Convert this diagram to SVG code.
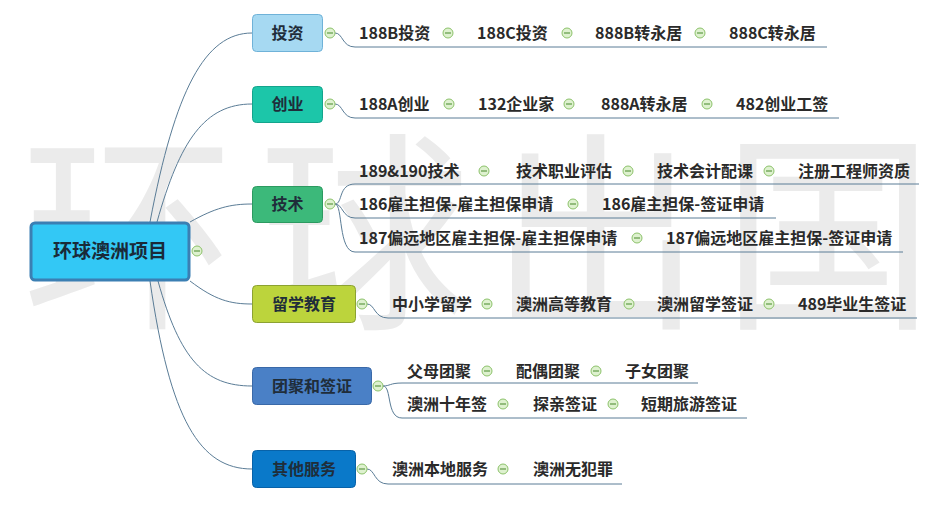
<svg xmlns="http://www.w3.org/2000/svg" width="941" height="516" viewBox="0 0 941 516">
<defs>
<style>
.wm{font-family:"Noto Sans CJK SC",sans-serif;font-size:212px;fill:#ebebeb;}
.lf{font-family:"Noto Sans CJK SC","Liberation Sans",sans-serif;font-size:16px;font-weight:bold;fill:#2a2a2a;}
.br{font-family:"Noto Sans CJK SC","Liberation Sans",sans-serif;font-size:16px;font-weight:bold;fill:#1f2d3a;text-anchor:middle;}
.rt{font-family:"Noto Sans CJK SC","Liberation Sans",sans-serif;font-size:19px;font-weight:bold;fill:#1a2a38;text-anchor:middle;}
.cn{fill:none;stroke:#5a7c96;stroke-width:1;}
.icc{fill:#def1cf;stroke:#8cc26a;stroke-width:1;}
.icl{stroke:#5f9a45;stroke-width:1.2;}
</style>
<g id="m"><circle class="icc" cx="0" cy="0" r="5"/><line class="icl" x1="-3" y1="0" x2="3" y2="0"/></g>
</defs>
<rect width="941" height="516" fill="#ffffff"/>
<text class="wm" x="22 258 490 722" y="313">环球出国</text>

<g id="connectors">
<path class="cn" d="M150,222 C175,90 205,33 252,33"/>
<path class="cn" d="M157,222 C180,140 205,104 252,104"/>
<path class="cn" d="M190,222 C215,208 230,204 252,204"/>
<path class="cn" d="M190,281 C215,300 230,304 252,304"/>
<path class="cn" d="M158,281 C180,360 205,386 252,386"/>
<path class="cn" d="M150,281 C170,420 200,469 252,469"/>
<path class="cn" d="M335,33 C343,33 342,47 355,47 H827"/>
<path class="cn" d="M335,104 C343,104 342,118 355,118 H839"/>
<path class="cn" d="M335,204 C343,204 338,184 355,184 H919"/>
<path class="cn" d="M335,204 C343,204 342,218 355,218 H776"/>
<path class="cn" d="M335,204 C343,204 338,252 355,252 H903"/>
<path class="cn" d="M367,304 C375,304 374,318 388,318 H917"/>
<path class="cn" d="M383,386 C390,386 390,383 402,383 H698"/>
<path class="cn" d="M383,386 C392,386 386,418 402,418 H747"/>
<path class="cn" d="M367,469 C375,469 374,484 388,484 H622"/>
</g>

<g id="root">
<rect x="31" y="223" width="158" height="57" rx="4" fill="#33c8f5" stroke="#3b7fb3" stroke-width="3"/>
<text class="rt" x="110" y="258">环球澳洲项目</text>
<use href="#m" x="197" y="251"/>
</g>

<g id="touzi">
<rect x="252.5" y="14.5" width="70" height="37" rx="4" fill="#a6d9f2" stroke="#6fb2d8"/>
<text class="br" x="287.5" y="39">投资</text>
<use href="#m" x="330" y="33"/>
<text class="lf" x="359" y="39">188B投资</text>
<use href="#m" x="448" y="33"/>
<text class="lf" x="477" y="39">188C投资</text>
<use href="#m" x="567" y="33"/>
<text class="lf" x="595" y="39">888B转永居</text>
<use href="#m" x="700" y="33"/>
<text class="lf" x="729" y="39">888C转永居</text>
</g>

<g id="chuangye">
<rect x="252.5" y="86.5" width="70" height="36" rx="4" fill="#1cc6a9" stroke="#14a48c"/>
<text class="br" x="287.5" y="110">创业</text>
<use href="#m" x="330" y="104"/>
<text class="lf" x="359" y="110">188A创业</text>
<use href="#m" x="449" y="104"/>
<text class="lf" x="478" y="110">132企业家</text>
<use href="#m" x="569" y="104"/>
<text class="lf" x="601" y="110">888A转永居</text>
<use href="#m" x="707" y="104"/>
<text class="lf" x="736" y="110">482创业工签</text>
</g>

<g id="jishu">
<rect x="252.5" y="186.5" width="70" height="36" rx="4" fill="#3cb97a" stroke="#2c9a60"/>
<text class="br" x="287.5" y="210">技术</text>
<use href="#m" x="330" y="204"/>
<text class="lf" x="359" y="177">189&amp;190技术</text>
<use href="#m" x="484" y="171"/>
<text class="lf" x="516" y="177">技术职业评估</text>
<use href="#m" x="628" y="171"/>
<text class="lf" x="657" y="177">技术会计配课</text>
<use href="#m" x="769" y="171"/>
<text class="lf" x="798" y="177">注册工程师资质</text>
<text class="lf" x="359" y="210">186雇主担保-雇主担保申请</text>
<use href="#m" x="573" y="204"/>
<text class="lf" x="602" y="210">186雇主担保-签证申请</text>
<text class="lf" x="359" y="244">187偏远地区雇主担保-雇主担保申请</text>
<use href="#m" x="637" y="238"/>
<text class="lf" x="666" y="244">187偏远地区雇主担保-签证申请</text>
</g>

<g id="liuxue">
<rect x="252.5" y="285.5" width="103" height="37" rx="4" fill="#bcd43c" stroke="#8ca232"/>
<text class="br" x="304" y="310">留学教育</text>
<use href="#m" x="362" y="304"/>
<text class="lf" x="392" y="310">中小学留学</text>
<use href="#m" x="487" y="304"/>
<text class="lf" x="516" y="310">澳洲高等教育</text>
<use href="#m" x="629" y="304"/>
<text class="lf" x="657" y="310">澳洲留学签证</text>
<use href="#m" x="769" y="304"/>
<text class="lf" x="798" y="310">489毕业生签证</text>
</g>

<g id="tuanju">
<rect x="252.5" y="367.5" width="119" height="37" rx="4" fill="#4a80c6" stroke="#3a69a8"/>
<text class="br" x="312" y="392">团聚和签证</text>
<use href="#m" x="378" y="386"/>
<text class="lf" x="407" y="377">父母团聚</text>
<use href="#m" x="487" y="371"/>
<text class="lf" x="516" y="377">配偶团聚</text>
<use href="#m" x="596" y="371"/>
<text class="lf" x="625" y="377">子女团聚</text>
<text class="lf" x="407" y="410">澳洲十年签</text>
<use href="#m" x="503" y="404"/>
<text class="lf" x="533" y="410">探亲签证</text>
<use href="#m" x="613" y="404"/>
<text class="lf" x="641" y="410">短期旅游签证</text>
</g>

<g id="qita">
<rect x="252.5" y="450.5" width="103" height="37" rx="4" fill="#0a79c9" stroke="#0862a8"/>
<text class="br" x="304" y="475">其他服务</text>
<use href="#m" x="362" y="469"/>
<text class="lf" x="392" y="475">澳洲本地服务</text>
<use href="#m" x="503" y="469"/>
<text class="lf" x="533" y="475">澳洲无犯罪</text>
</g>
</svg>
